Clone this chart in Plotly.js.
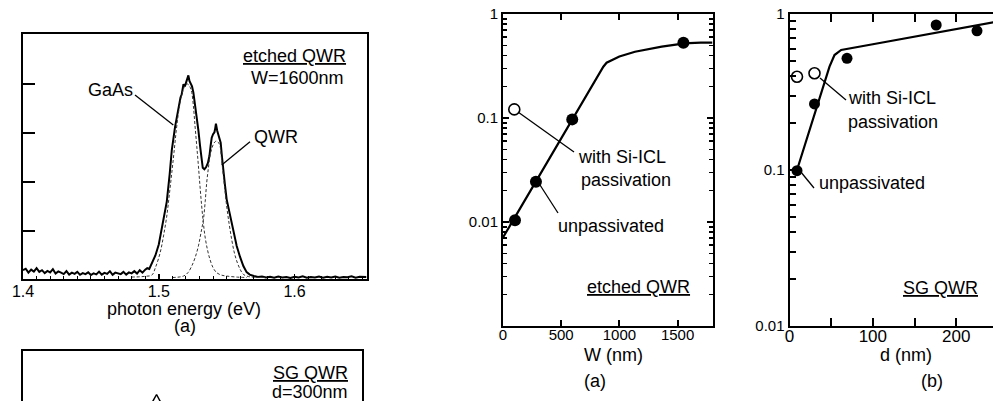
<!DOCTYPE html>
<html>
<head>
<meta charset="utf-8">
<script src="https://cdn.plot.ly/plotly-3.0.1.min.js"></script>
<style>html,body{margin:0;padding:0;background:#fff;overflow:hidden}#chart{width:993px;height:401px}</style>
</head>
<body>
<div id="chart"></div>
<script>
// ---------- Spectrum (a): etched QWR, W=1600nm ----------
const specEnergy = [1.400,1.402,1.404,1.406,1.408,1.410,1.412,1.414,1.416,1.418,1.420,1.422,1.424,1.426,1.428,1.430,1.432,1.434,1.436,1.438,1.440,1.442,1.444,1.446,1.448,1.450,1.452,1.454,1.456,1.458,1.460,1.462,1.464,1.466,1.468,1.470,1.472,1.474,1.476,1.478,1.480,1.482,1.484,1.486,1.488,1.490,1.4915,
  1.4930,1.4950,1.4975,1.5000,1.5030,1.5059,1.5080,1.5096,1.5120,1.5145,1.5160,1.5169,1.5182,1.5192,1.5201,1.5210,1.5218,1.5226,1.5235,1.5245,1.5255,1.5267,1.5279,1.5292,1.5304,1.5315,1.5324,1.5336,1.5348,1.5362,1.5373,1.5382,1.5390,1.5400,1.5410,1.5416,1.5421,1.5430,1.5439,1.5448,1.5456,1.5466,1.5476,1.5488,1.5500,1.5518,1.5537,1.5555,1.5574,1.5598,1.5623,1.5647,1.5670,
  1.570,1.573,1.576,1.579,1.582,1.585,1.588,1.591,1.594,1.597,1.600,1.603,1.606,1.609,1.612,1.615,1.618,1.621,1.624,1.627,1.630,1.633,1.636,1.639,1.642,1.645,1.648,1.651,1.653];
const specMeasured = [0.040,0.046,0.030,0.042,0.034,0.048,0.033,0.040,0.028,0.037,0.031,0.044,0.026,0.035,0.030,0.024,0.036,0.022,0.030,0.025,0.033,0.021,0.028,0.024,0.031,0.020,0.027,0.023,0.034,0.022,0.029,0.025,0.036,0.021,0.030,0.026,0.024,0.033,0.022,0.031,0.027,0.036,0.026,0.040,0.030,0.042,0.048,
  0.045,0.068,0.100,0.145,0.230,0.320,0.430,0.530,0.625,0.705,0.745,0.758,0.799,0.790,0.805,0.815,0.835,0.812,0.799,0.790,0.765,0.720,0.669,0.610,0.547,0.495,0.458,0.452,0.460,0.478,0.506,0.548,0.581,0.595,0.603,0.620,0.638,0.610,0.590,0.575,0.560,0.500,0.438,0.385,0.329,0.280,0.234,0.185,0.139,0.095,0.057,0.032,0.022,
  0.016,0.012,0.014,0.010,0.013,0.009,0.014,0.010,0.012,0.008,0.013,0.010,0.015,0.009,0.012,0.010,0.014,0.009,0.013,0.010,0.014,0.009,0.012,0.011,0.015,0.009,0.013,0.011,0.012];

const gaasFitEnergy = [1.480,1.486,1.490,1.4949,1.4975,1.5010,1.5035,1.5059,1.5078,1.5096,1.5112,1.5127,1.5142,1.5157,1.5172,1.5186,1.5200,1.5211,1.5228,1.5243,1.5255,1.5267,1.5280,1.5292,1.5304,1.5316,1.5328,1.5340,1.5358,1.5377,1.5400,1.5426,1.5460,1.5500,1.5570,1.5650];
const gaasFit = [0.012,0.013,0.015,0.020,0.050,0.111,0.180,0.261,0.350,0.438,0.520,0.601,0.670,0.724,0.762,0.785,0.797,0.800,0.790,0.765,0.710,0.629,0.545,0.465,0.380,0.302,0.235,0.180,0.125,0.084,0.050,0.030,0.020,0.016,0.012,0.010];

const qwrFitEnergy = [1.5100,1.5182,1.5215,1.5243,1.5268,1.5292,1.5310,1.5329,1.5342,1.5353,1.5365,1.5377,1.5390,1.5402,1.5414,1.5426,1.5438,1.5451,1.5463,1.5476,1.5488,1.5500,1.5518,1.5537,1.5555,1.5574,1.5598,1.5623,1.5660,1.5720,1.5800];
const qwrFit = [0.010,0.016,0.030,0.057,0.092,0.139,0.190,0.248,0.320,0.397,0.455,0.506,0.535,0.554,0.564,0.567,0.562,0.547,0.490,0.424,0.362,0.302,0.230,0.166,0.115,0.078,0.045,0.023,0.014,0.011,0.010];

// lower spectrum panel (SG QWR d=300nm), only the peak tip is visible
const sgEnergy = [1.492,1.4973,1.4999,1.5025,1.508];
const sgSignal = [0.75,0.80,0.826,0.80,0.75];

const specXTicks = [1.4,1.5,1.6];
const specXTickText = ['1.4','1.5','1.6'];

// ---------- Panel (a): etched QWR vs W ----------
const wCurveW = [0,862,890,934,1000,1134,1250,1364,1500,1600,1700,1800];
const wCurveVal = [0.0071,0.311,0.340,0.361,0.390,0.434,0.462,0.485,0.510,0.525,0.530,0.530];
const wUnpassW = [103,283,595,1550];
const wUnpassVal = [0.0104,0.0244,0.097,0.53];
const wPassW = [97];
const wPassVal = [0.121];
const wXTicks = [0,500,1000,1500];
const wXTickText = ['0','500','1000','1500'];
const wYTicks = [0.001,0.01,0.1,1];
const wYTickText = ['','0.01','0.1','1'];

// ---------- Panel (b): SG QWR vs d ----------
const dCurveD = [9,30,48,54,62,100,140,180,220,245];
const dCurveVal = [0.100,0.227,0.460,0.546,0.588,0.640,0.700,0.763,0.835,0.885];
const dUnpassD = [9,30,69,176,225];
const dUnpassVal = [0.099,0.265,0.52,0.85,0.78];
const dPassD = [9,30];
const dPassVal = [0.396,0.417];
const dXTicks = [0,50,100,150,200];
const dXTickText = ['0','','100','','200'];
const dYTicks = [0.01,0.1,1];
const dYTickText = ['0.01','0.1','1'];

// ---------- helpers ----------
const W = 993, H = 401;
const FONT = 'Arial, "Liberation Sans", sans-serif';
const px = x => x / W, py = y => 1 - y / H;
function minorLog(d0, d1) {
  const v = [];
  for (let e = d0; e < d1; e++) for (let m = 2; m <= 9; m++) v.push(m * Math.pow(10, e));
  return v;
}
function ann(text, x, y, xanchor, size) {
  return {xref:'paper', yref:'paper', x:px(x), y:py(y), text:text, showarrow:false,
          xanchor:xanchor, yanchor:'middle', font:{family:FONT, size:size||18, color:'#000'}};
}
function seg(x0, y0, x1, y1) {
  return {type:'line', xref:'paper', yref:'paper', x0:px(x0), y0:py(y0), x1:px(x1), y1:py(y1),
          line:{color:'#000', width:1.3}};
}

const axBase = {showline:true, linecolor:'#000', linewidth:2, showgrid:false, zeroline:false,
                tickcolor:'#000', tickfont:{family:FONT, size:16, color:'#000'}};

const traces = [
  {x:specEnergy, y:specMeasured, xaxis:'x', yaxis:'y', mode:'lines', line:{color:'#000', width:2}},
  {x:gaasFitEnergy, y:gaasFit, xaxis:'x', yaxis:'y', mode:'lines', line:{color:'#333', width:1, dash:'3px,2px', shape:'spline'}},
  {x:qwrFitEnergy, y:qwrFit, xaxis:'x', yaxis:'y', mode:'lines', line:{color:'#333', width:1, dash:'3px,2px', shape:'spline'}},
  {x:sgEnergy, y:sgSignal, xaxis:'x2', yaxis:'y2', mode:'lines', line:{color:'#000', width:1.5}},
  {x:wCurveW, y:wCurveVal, xaxis:'x3', yaxis:'y3', mode:'lines', line:{color:'#000', width:2.2}},
  {x:wUnpassW, y:wUnpassVal, xaxis:'x3', yaxis:'y3', mode:'markers', marker:{color:'#000', size:12}, cliponaxis:false},
  {x:wPassW, y:wPassVal, xaxis:'x3', yaxis:'y3', mode:'markers', marker:{color:'#fff', size:11, line:{color:'#000', width:1.6}}, cliponaxis:false},
  {x:dCurveD, y:dCurveVal, xaxis:'x4', yaxis:'y4', mode:'lines', line:{color:'#000', width:2.2}},
  {x:dUnpassD, y:dUnpassVal, xaxis:'x4', yaxis:'y4', mode:'markers', marker:{color:'#000', size:11}, cliponaxis:false},
  {x:dPassD, y:dPassVal, xaxis:'x4', yaxis:'y4', mode:'markers', marker:{color:'#fff', size:11, line:{color:'#000', width:1.6}}, cliponaxis:false}
];

const layout = {
  width:W, height:H, margin:{l:0, r:0, t:0, b:0}, paper_bgcolor:'#fff', plot_bgcolor:'#fff',
  showlegend:false, font:{family:FONT, color:'#000'},
  xaxis: Object.assign({}, axBase, {domain:[px(23), px(366.5)], anchor:'y', range:[1.4,1.653], mirror:true,
    tickmode:'array', tickvals:specXTicks, ticktext:specXTickText, ticks:'inside', ticklen:5, tickwidth:1.5,
    ticklabelstandoff:-3,
    minor:{ticks:'inside', ticklen:3, tickwidth:1, tick0:1.4, dtick:0.01, tickcolor:'#000'}}),
  yaxis: Object.assign({}, axBase, {domain:[py(279), py(34)], anchor:'x', range:[0.004,1.004], mirror:true,
    tickmode:'array', tickvals:[0.2,0.4,0.6,0.8], ticks:'inside', ticklen:12, tickwidth:1.5, showticklabels:false}),
  xaxis2: Object.assign({}, axBase, {domain:[px(22.7), px(361.7)], anchor:'y2', side:'top', range:[1.4,1.653],
    ticks:'', showticklabels:false}),
  yaxis2: Object.assign({}, axBase, {domain:[0, py(351)], anchor:'x2', range:[0.8,1.0], mirror:true,
    ticks:'', showticklabels:false}),
  xaxis3: Object.assign({}, axBase, {domain:[px(503), px(712.5)], anchor:'y3', range:[0,1800], mirror:'ticks',
    tickmode:'array', tickvals:wXTicks, ticktext:wXTickText, ticks:'inside', ticklen:6, tickwidth:2,
    ticklabelstandoff:-6,
    tickfont:{family:FONT, size:15, color:'#000'}}),
  yaxis3: Object.assign({}, axBase, {domain:[py(326), py(14)], anchor:'x3', type:'log', range:[-3,0], mirror:'ticks',
    tickmode:'array', tickvals:wYTicks, ticktext:wYTickText, ticks:'inside', ticklen:6, tickwidth:2,
    tickfont:{family:FONT, size:15, color:'#000'},
    minor:{ticks:'inside', ticklen:4, tickwidth:1.5, tickcolor:'#000', tickvals:minorLog(-3,0)}}),
  xaxis4: Object.assign({}, axBase, {domain:[px(789.5), 1], anchor:'y4', range:[0,244.2], mirror:'ticks',
    tickmode:'array', tickvals:dXTicks, ticktext:dXTickText, ticks:'inside', ticklen:8, tickwidth:2,
    ticklabelstandoff:-6,
    tickfont:{family:FONT, size:17, color:'#000'}}),
  yaxis4: Object.assign({}, axBase, {domain:[py(326), py(14)], anchor:'x4', type:'log', range:[-2,0], mirror:false,
    tickmode:'array', tickvals:dYTicks, ticktext:dYTickText, ticks:'inside', ticklen:8, tickwidth:2,
    tickfont:{family:FONT, size:15, color:'#000'},
    minor:{ticks:'inside', ticklen:6, tickwidth:2, tickcolor:'#000', tickvals:minorLog(-2,0)}}),
  annotations: [
    ann('<u>etched QWR</u>', 348, 56, 'right'),
    ann('W=1600nm', 346, 78, 'right'),
    ann('GaAs', 110.5, 90, 'center'),
    ann('QWR', 275.5, 137, 'center'),
    ann('photon energy (eV)', 184, 309, 'center'),
    ann('(a)', 185, 326, 'center'),
    ann('<u>SG QWR</u>', 350, 373, 'right'),
    ann('d=300nm', 350, 392, 'right'),
    ann('with Si-ICL', 576, 157, 'left'),
    ann('passivation', 579, 180, 'left'),
    ann('unpassivated', 556, 226, 'left'),
    ann('<u>etched QWR</u>', 692, 287, 'right'),
    ann('W (nm)', 613, 355, 'center'),
    ann('(a)', 595, 381, 'center'),
    ann('with Si-ICL', 846, 98, 'left'),
    ann('passivation', 846, 122, 'left'),
    ann('unpassivated', 817, 183, 'left'),
    ann('<u>SG QWR</u>', 980, 288, 'right'),
    ann('d (nm)', 906, 355, 'center'),
    ann('(b)', 932, 381, 'center')
  ],
  shapes: [
    seg(135, 95, 173.3, 125),
    seg(250, 141.7, 221.7, 165),
    seg(518, 112, 574, 152),
    seg(540, 185, 558, 213),
    seg(820, 78, 846, 100),
    seg(801.7, 173, 814, 188)
  ]
};

Plotly.newPlot('chart', traces, layout, {staticPlot:true, displayModeBar:false});
</script>
</body>
</html>
